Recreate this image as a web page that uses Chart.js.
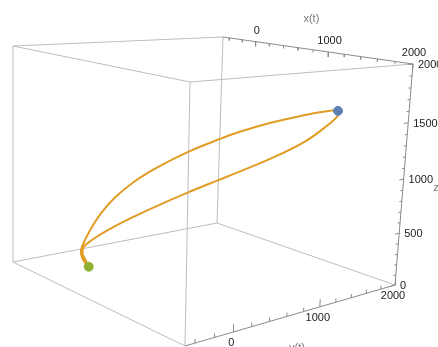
<!DOCTYPE html>
<html>
<head>
<meta charset="utf-8">
<script src="https://cdn.jsdelivr.net/npm/chart.js@4/dist/chart.umd.min.js"></script>
<style>
  html, body { margin: 0; padding: 0; background: #fff; }
  canvas { display: block; }
</style>
</head>
<body>
<canvas id="grafica3d" width="438" height="347"></canvas>
<script>
// plot range of the 3D box
const xRange = [-500, 2000];
const yRange = [-500, 2000];
const zRange = [0, 2000];

// tick labels
const xTicks = [0, 1000, 2000];
const yTicks = [0, 1000, 2000];
const zTicks = [0, 500, 1000, 1500, 2000];

// trajectory x(t), y(t), z(t)
const xt = [0, -31, -48, -52, -26, 18, 82, 164, 292, 438, 627, 828, 940, 1152, 1356, 1499, 1561,
            1563, 1504, 1366, 1162, 950, 825, 634, 444, 277, 122, 19, -35, -42, -25, -5];
const yt = [0, -31, -48, -52, -26, 18, 82, 164, 292, 438, 627, 828, 940, 1152, 1356, 1499, 1561,
            1563, 1504, 1366, 1162, 950, 825, 634, 444, 277, 122, 19, -35, -42, -25, -5];
const zt = [0, 49, 103, 162, 263, 394, 543, 686, 851, 994, 1145, 1277, 1343, 1446, 1525, 1570, 1575,
            1536, 1448, 1292, 1129, 984, 901, 772, 635, 505, 371, 266, 192, 128, 75, 17];

const W = 438, H = 347;

// view: where the corners of the box land (key = x,y,z index), plus relative depth
const vista = {
  '000': [13, 262], '100': [185, 346], '010': [217, 223], '110': [395, 285],
  '001': [13, 46],  '101': [190, 82],  '011': [223, 37],  '111': [413, 64]
};
const profundidad = [1, -0.18, 0.16, -0.08];

function proyectar(x, y, z) {
  const u = (x - xRange[0]) / (xRange[1] - xRange[0]);
  const v = (y - yRange[0]) / (yRange[1] - yRange[0]);
  const w = (z - zRange[0]) / (zRange[1] - zRange[0]);
  let sx = 0, sy = 0, sw = 0;
  for (let i = 0; i < 2; i++) {
    for (let j = 0; j < 2; j++) {
      for (let k = 0; k < 2; k++) {
        const d = profundidad[0] + profundidad[1] * i + profundidad[2] * j + profundidad[3] * k;
        const peso = (i ? u : 1 - u) * (j ? v : 1 - v) * (k ? w : 1 - w) * d;
        const c = vista['' + i + j + k];
        sx += peso * c[0];
        sy += peso * c[1];
        sw += peso;
      }
    }
  }
  return { x: sx / sw, y: sy / sw };
}

const corte = { x: null, y: null };

function segmento(lista, a, b) {
  lista.push(proyectar(a[0], a[1], a[2]), proyectar(b[0], b[1], b[2]), corte);
}

// box edges
const [x0, x1] = xRange, [y0, y1] = yRange, [z0, z1] = zRange;
const aristas = [];
const ejes = [];
segmento(aristas, [x0, y0, z0], [x1, y0, z0]);
segmento(aristas, [x0, y0, z0], [x0, y1, z0]);
segmento(aristas, [x0, y1, z0], [x1, y1, z0]);
segmento(aristas, [x0, y0, z1], [x1, y0, z1]);
segmento(aristas, [x0, y0, z1], [x0, y1, z1]);
segmento(aristas, [x1, y0, z1], [x1, y1, z1]);
segmento(aristas, [x0, y0, z0], [x0, y0, z1]);
segmento(aristas, [x1, y0, z0], [x1, y0, z1]);
segmento(aristas, [x0, y1, z0], [x0, y1, z1]);
segmento(ejes, [x0, y1, z1], [x1, y1, z1]);   // x axis
segmento(ejes, [x1, y0, z0], [x1, y1, z0]);   // y axis
segmento(ejes, [x1, y1, z0], [x1, y1, z1]);   // z axis

// tick marks
const marcas = [];
for (let t = -400; t <= 2000; t += 200) {
  const largo = t % 1000 === 0 ? 45 : 25;
  segmento(marcas, [t, y1, z1], [t, y1, z1 - largo]);
}
for (let t = -400; t <= 2000; t += 200) {
  const largo = t % 1000 === 0 ? 70 : 35;
  segmento(marcas, [x1, t, z0], [x1, t, z0 + largo]);
}
for (let t = 0; t <= 2000; t += 100) {
  const largo = t % 500 === 0 ? 60 : 35;
  segmento(marcas, [x1, y1, t], [x1, y1 - largo, t]);
}

const curva = xt.map((x, i) => proyectar(x, yt[i], zt[i]));
const iMax = zt.indexOf(Math.max(...zt));
const inicio = [curva[0]];
const punto = [curva[iMax]];

const etiquetas = {
  id: 'etiquetas',
  afterDatasetsDraw(chart) {
    const ctx = chart.ctx;
    const ex = chart.scales.x, ey = chart.scales.y;
    function poner(texto, p, dx, dy, align, color) {
      ctx.save();
      ctx.font = '11px "Liberation Sans", Arial, sans-serif';
      ctx.fillStyle = color;
      ctx.textAlign = align;
      ctx.textBaseline = 'middle';
      ctx.fillText(texto, ex.getPixelForValue(p.x) + dx, ey.getPixelForValue(p.y) + dy);
      ctx.restore();
    }
    xTicks.forEach(t => poner(String(t), proyectar(t, y1, z1), 1, -11, 'center', '#222'));
    yTicks.forEach(t => poner(String(t), proyectar(x1, t, z0), -2, 11, 'center', '#222'));
    zTicks.forEach(t => poner(String(t), proyectar(x1, y1, t), 5, 1, 'left', '#222'));
    poner('x(t)', proyectar(750, y1, z1), 2, -30, 'center', '#777');
    poner('y(t)', proyectar(x1, 650, z0), 6, 33, 'center', '#777');
    poner('z(t)', proyectar(x1, y1, 950), 30, 3, 'left', '#777');
  }
};

new Chart(document.getElementById('grafica3d'), {
  type: 'scatter',
  data: {
    datasets: [
      { data: inicio, pointRadius: 4.5, backgroundColor: '#8FB032', borderColor: '#8FB032', pointHoverRadius: 4.5 },
      { data: punto, pointRadius: 4.5, backgroundColor: '#5E81B5', borderColor: '#5E81B5', pointHoverRadius: 4.5 },
      { data: curva, showLine: true, borderColor: '#E19C24', borderWidth: 2, pointRadius: 0, pointHoverRadius: 0, tension: 0.4 },
      { data: ejes, showLine: true, borderColor: '#8a8a8a', borderWidth: 1, pointRadius: 0, pointHoverRadius: 0 },
      { data: marcas, showLine: true, borderColor: '#8a8a8a', borderWidth: 1, pointRadius: 0, pointHoverRadius: 0 },
      { data: aristas, showLine: true, borderColor: '#bdbdbd', borderWidth: 1, pointRadius: 0, pointHoverRadius: 0 }
    ]
  },
  options: {
    responsive: false,
    animation: false,
    layout: { padding: 0, autoPadding: false },
    plugins: { legend: { display: false }, tooltip: { enabled: false } },
    scales: {
      x: { type: 'linear', min: 0, max: W, display: false },
      y: { type: 'linear', min: 0, max: H, reverse: true, display: false }
    }
  },
  plugins: [etiquetas]
});
</script>
</body>
</html>
